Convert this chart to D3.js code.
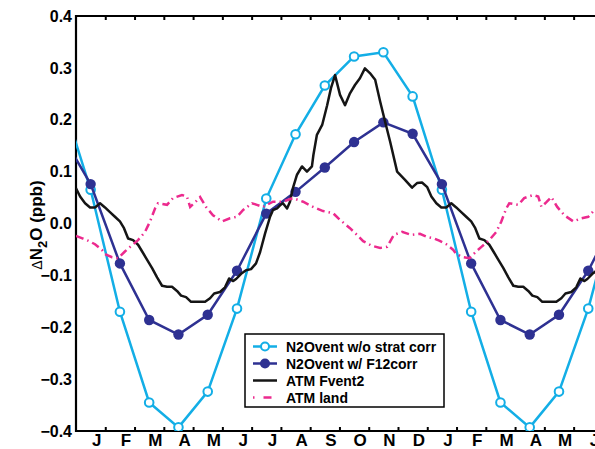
<!DOCTYPE html>
<html>
<head>
<meta charset="utf-8">
<script src="https://cdn.jsdelivr.net/npm/d3@7"></script>
<style>
  body { margin: 0; background: #fff; }
  svg { font-family: "Liberation Sans", Arial, Helvetica, sans-serif; font-weight: bold; }
</style>
</head>
<body>
<div class="chart"></div>
<script>
// month labels, ticks sit at the end of each month (t = 1..18)
const months = ["J","F","M","A","M","J","J","A","S","O","N","D","J","F","M","A","M","J"];
const yTicks = [-0.4, -0.3, -0.2, -0.1, 0, 0.1, 0.2, 0.3, 0.4];

// monthly means at mid-month, Dec (t=-0.5) through Jul (t=18.5)
const monthT = [-0.5,0.5,1.5,2.5,3.5,4.5,5.5,6.5,7.5,8.5,9.5,10.5,11.5,12.5,13.5,14.5,15.5,16.5,17.5,18.5];
const ventNoStrat = [0.245,0.065,-0.170,-0.345,-0.393,-0.324,-0.164,0.048,0.172,0.266,0.322,0.330,0.245,0.065,-0.170,-0.345,-0.393,-0.324,-0.164,0.048];
const ventF12 = [0.173,0.076,-0.077,-0.186,-0.214,-0.176,-0.091,0.019,0.061,0.108,0.157,0.195,0.173,0.076,-0.077,-0.186,-0.214,-0.176,-0.091,0.019];

// ATM Fvent2, one year of the climatology (t in months)
const fventT = [0,0.14,0.31,0.48,0.65,0.82,0.99,1.16,1.33,1.50,1.64,1.78,1.95,2.12,2.26,2.43,2.60,2.77,2.94,3.11,3.28,3.45,3.59,3.76,3.93,4.13,4.41,4.58,4.72,4.92,5.09,5.23,5.36,5.47,5.64,5.81,5.98,6.15,6.29,6.46,6.63,6.73,6.87,6.97,7.07,7.21,7.31,7.41,7.55,7.72,7.89,8.06,8.11,8.23,8.41,8.58,8.71,8.85,9.02,9.19,9.36,9.53,9.70,9.87,10.04,10.22,10.39,10.56,10.73,10.97,11.24,11.48,11.65,11.82,12.0];
const fventV = [0.068,0.052,0.039,0.031,0.031,0.039,0.031,0.022,0.013,0.004,-0.009,-0.029,-0.032,-0.041,-0.054,-0.070,-0.086,-0.104,-0.120,-0.122,-0.122,-0.130,-0.139,-0.142,-0.151,-0.151,-0.151,-0.144,-0.135,-0.132,-0.123,-0.106,-0.111,-0.107,-0.097,-0.090,-0.088,-0.077,-0.055,-0.019,0.013,0.026,0.029,0.035,0.039,0.029,0.042,0.068,0.094,0.110,0.100,0.110,0.132,0.171,0.190,0.228,0.261,0.286,0.248,0.228,0.251,0.267,0.280,0.299,0.290,0.277,0.235,0.196,0.158,0.100,0.084,0.069,0.078,0.079,0.070];

// ATM land, one year of the climatology
const landT = [0,0.24,0.41,0.65,0.89,0.99,1.23,1.44,1.67,1.85,2.12,2.36,2.53,2.70,2.80,3.11,3.31,3.62,3.79,3.90,4.07,4.24,4.44,4.68,4.99,5.26,5.50,5.71,6.01,6.18,6.39,6.73,7.07,7.41,7.76,8.10,8.44,8.78,9.02,9.36,9.60,9.81,10.11,10.39,10.63,10.86,11.14,11.45,11.75,12.0];
const landV = [-0.024,-0.029,-0.033,-0.040,-0.051,-0.059,-0.065,-0.067,-0.054,-0.045,-0.032,-0.016,0.004,0.029,0.039,0.036,0.049,0.055,0.052,0.032,0.041,0.051,0.032,0.016,0.004,0.010,0.013,0.026,0.039,0.036,0.032,0.042,0.042,0.049,0.042,0.032,0.024,0.020,0.007,-0.009,-0.022,-0.034,-0.043,-0.047,-0.045,-0.022,-0.016,-0.022,-0.020,-0.026];

const legendLabels = ["N2Ovent w/o strat corr","N2Ovent w/ F12corr","ATM Fvent2","ATM land"];

const width = 595, height = 449;
const cyan = "#13aee6", navy = "#2e3192", black = "#151515", pink = "#ec2a8e";

const svg = d3.select(".chart")
  .append("svg")
  .attr("width", width)
  .attr("height", height);

const xScale = d3.scaleLinear()
  .domain([0, 18])
  .range([76, 602.9]);

const yScale = d3.scaleLinear()
  .domain([-0.4, 0.4])
  .range([431, 16]);

svg.append("clipPath")
  .attr("id", "plot")
  .append("rect")
  .attr("x", 76).attr("y", 16)
  .attr("width", 602.9 - 76).attr("height", 415);

// axes
const xAxis = d3.axisBottom(xScale)
  .tickValues(d3.range(1, 19))
  .tickSize(-4)
  .tickFormat((d, i) => months[i]);

const xg = svg.append("g")
  .attr("transform", "translate(0,431)")
  .call(xAxis);
xg.select(".domain").remove();
xg.selectAll(".tick line").attr("stroke", "#000").attr("stroke-width", 2);
xg.selectAll("text")
  .attr("y", 15).attr("dy", null).attr("dx", -9)
  .attr("font-size", 17).attr("font-weight", "bold")
  .attr("font-family", "Liberation Sans, Arial, sans-serif")
  .attr("fill", "#000");

const topAxis = d3.axisTop(xScale)
  .tickValues(d3.range(1, 19))
  .tickSize(-4)
  .tickFormat("");

const tg = svg.append("g")
  .attr("transform", "translate(0,16)")
  .call(topAxis);
tg.select(".domain").remove();
tg.selectAll(".tick line").attr("stroke", "#000").attr("stroke-width", 2);

const yAxis = d3.axisLeft(yScale)
  .tickValues(yTicks)
  .tickSize(0)
  .tickPadding(4)
  .tickFormat(d => d3.format(".1f")(d));

const yg = svg.append("g")
  .attr("transform", "translate(76,0)")
  .call(yAxis);
yg.select(".domain").remove();
yg.selectAll("text")
  .attr("font-size", 16).attr("font-weight", "bold")
  .attr("font-family", "Liberation Sans, Arial, sans-serif")
  .attr("fill", "#000");

// frame (right side falls outside the picture)
svg.append("path")
  .attr("d", `M${width + 5},16H76V431H${width + 5}`)
  .attr("fill", "none")
  .attr("stroke", "#000")
  .attr("stroke-width", 2.2);

// y label
const ylab = svg.append("text")
  .attr("transform", "translate(42,225) rotate(-90)")
  .attr("text-anchor", "middle")
  .attr("font-size", 17);
ylab.append("tspan").attr("font-weight", "normal").attr("font-size", 14).text("\u0394");
ylab.append("tspan").text("N");
ylab.append("tspan").attr("dy", 5).attr("font-size", 13).text("2");
ylab.append("tspan").attr("dy", -5).text("O (ppb)");

// series
const plot = svg.append("g").attr("clip-path", "url(#plot)");

const line = d3.line()
  .x(d => xScale(d[0]))
  .y(d => yScale(d[1]));

const cycle = (ts, vs) => ts.map((t, i) => [t, vs[i]])
  .concat(ts.slice(1).map((t, i) => [t + 12, vs[i + 1]]));

const fvent = cycle(fventT, fventV);
const land = cycle(landT, landV);
const noStrat = monthT.map((t, i) => [t, ventNoStrat[i]]);
const f12 = monthT.map((t, i) => [t, ventF12[i]]);

plot.append("path")
  .datum(noStrat)
  .attr("fill", "none")
  .attr("stroke", cyan)
  .attr("stroke-width", 2.5)
  .attr("d", line);

plot.selectAll(".open")
  .data(noStrat)
  .enter()
  .append("circle")
  .attr("class", "open")
  .attr("cx", d => xScale(d[0]))
  .attr("cy", d => yScale(d[1]))
  .attr("r", 4.3)
  .attr("fill", "white")
  .attr("stroke", cyan)
  .attr("stroke-width", 2);

plot.append("path")
  .datum(f12)
  .attr("fill", "none")
  .attr("stroke", navy)
  .attr("stroke-width", 2.5)
  .attr("d", line);

plot.selectAll(".filled")
  .data(f12)
  .enter()
  .append("circle")
  .attr("class", "filled")
  .attr("cx", d => xScale(d[0]))
  .attr("cy", d => yScale(d[1]))
  .attr("r", 5.2)
  .attr("fill", navy);

plot.append("path")
  .datum(fvent)
  .attr("fill", "none")
  .attr("stroke", black)
  .attr("stroke-width", 2.5)
  .attr("stroke-linejoin", "round")
  .attr("d", line);

plot.append("path")
  .datum(land)
  .attr("fill", "none")
  .attr("stroke", pink)
  .attr("stroke-width", 2.5)
  .attr("stroke-dasharray", "8,4,1.5,4")
  .attr("d", line);

// legend
const legend = svg.append("g").attr("transform", "translate(245,334)");
legend.append("rect")
  .attr("width", 199).attr("height", 73)
  .attr("fill", "white")
  .attr("stroke", "#000")
  .attr("stroke-width", 1.5);

const rows = [
  {color: cyan, marker: "open", dash: null},
  {color: navy, marker: "filled", dash: null},
  {color: black, marker: null, dash: null},
  {color: pink, marker: null, dash: "1.5,9,8,10"}
];

rows.forEach((r, i) => {
  const cy = 12.5 + i * 17;
  legend.append("line")
    .attr("x1", 8).attr("x2", 32)
    .attr("y1", cy).attr("y2", cy)
    .attr("stroke", r.color)
    .attr("stroke-width", 2.5)
    .attr("stroke-dasharray", r.dash);
  if (r.marker === "open") {
    legend.append("circle").attr("cx", 20).attr("cy", cy).attr("r", 4)
      .attr("fill", "white").attr("stroke", r.color).attr("stroke-width", 2);
  } else if (r.marker === "filled") {
    legend.append("circle").attr("cx", 20).attr("cy", cy).attr("r", 5)
      .attr("fill", r.color);
  }
  legend.append("text")
    .attr("x", 41).attr("y", cy + 5)
    .attr("font-size", 14)
    .text(legendLabels[i]);
});
</script>
</body>
</html>
